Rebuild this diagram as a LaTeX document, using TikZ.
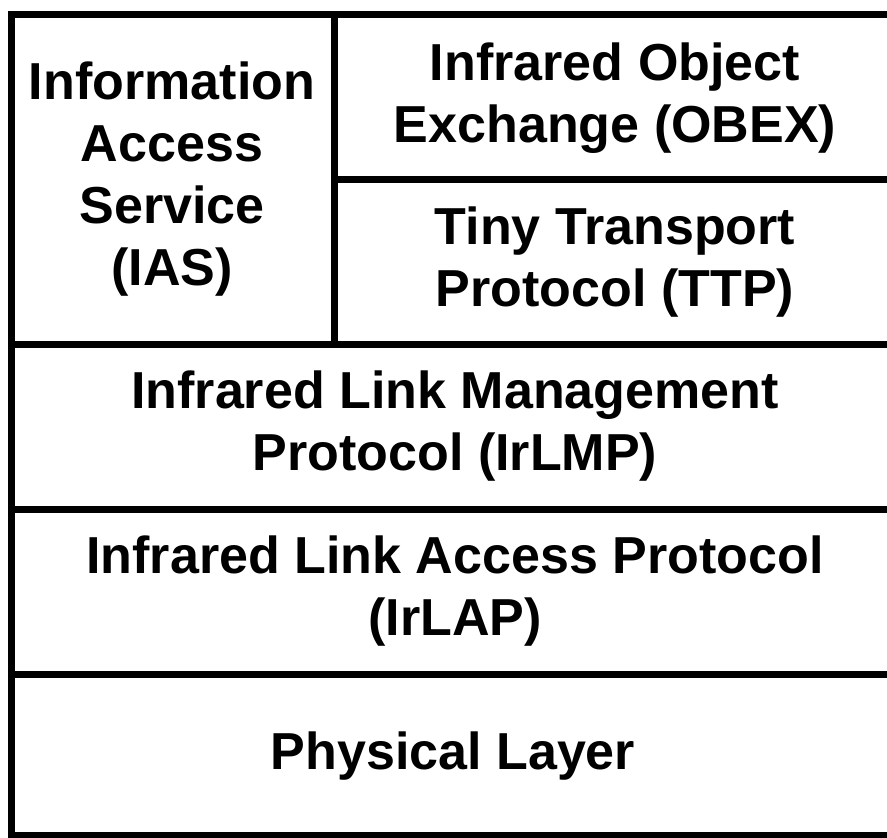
\documentclass[tikz,border=0pt]{standalone}
\usepackage{fontspec}
\setmainfont{Liberation Sans}
\usetikzlibrary{positioning}

\tikzset{
  layer/.style={align=center, font=\bfseries\fontsize{37}{44}\selectfont, inner sep=0pt},
  rule/.style={line width=7*0.025cm, line cap=rect}
}

\begin{document}
\begin{tikzpicture}[x=0.025cm, y=-0.025cm]
\useasboundingbox (0,0) rectangle (887,837);
\clip (0,0) rectangle (887,837);
% frame corners and dividers
\coordinate (TL) at (11,14);
\coordinate (TR) at (897,14);
\coordinate (BL) at (11,835);
\coordinate (BR) at (897,835);
\coordinate (Vtop) at (334,14);
\coordinate (Vbot) at (334,344);
\coordinate (H1l) at (334,179);
\coordinate (H1r) at (897,179);
\coordinate (H2l) at (11,344);
\coordinate (H2r) at (897,344);
\coordinate (H3l) at (11,509);
\coordinate (H3r) at (897,509);
\coordinate (H4l) at (11,674);
\coordinate (H4r) at (897,674);
\draw[rule] (TL) rectangle (BR);
\draw[rule] (Vtop)--(Vbot) (H1l)--(H1r) (H2l)--(H2r) (H3l)--(H3r) (H4l)--(H4r);
% layer labels
\node[layer] (ias) at (172,179) {Information\\Access\\Service\\(IAS)};
\node[layer] (obex) at (615,98) {Infrared Object\\Exchange (OBEX)};
\node[layer] (ttp) at (615,262) {Tiny Transport\\Protocol (TTP)};
\node[layer] (lmp) at (455,426) {Infrared Link Management\\Protocol (IrLMP)};
\node[layer] (lap) at (455,591) {Infrared Link Access Protocol\\(IrLAP)};
\node[layer] (phy) at (453,756) {Physical Layer};
\end{tikzpicture}
\end{document}
